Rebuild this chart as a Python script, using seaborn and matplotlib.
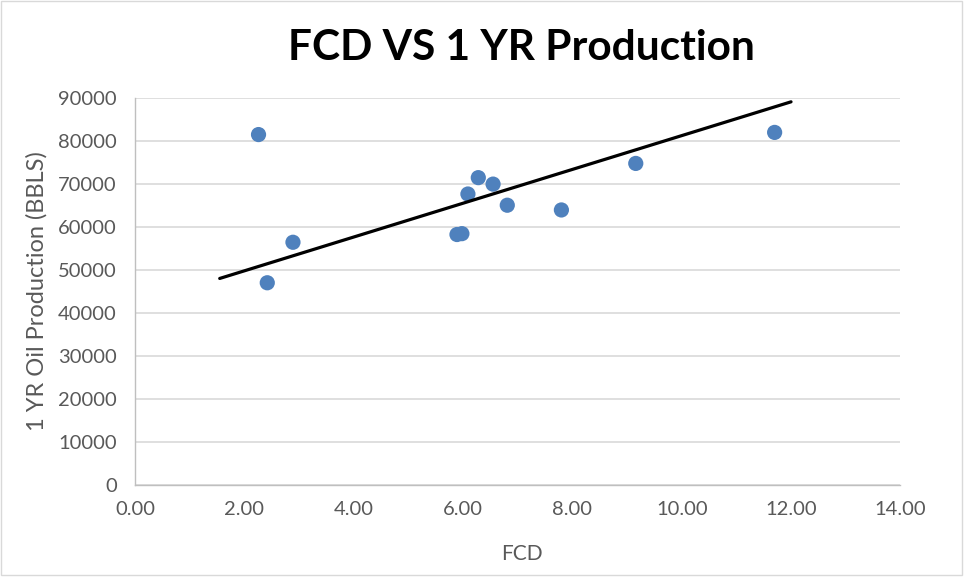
import matplotlib
matplotlib.use("Agg")
import matplotlib.pyplot as plt
import seaborn as sns
import pandas as pd
from matplotlib.patches import Rectangle

# Data
fcd = [2.26, 2.42, 2.89, 5.89, 5.98, 6.09, 6.28, 6.55, 6.81, 7.80, 9.16, 11.70]
production = [81400, 47000, 56400, 58200, 58400, 67600, 71400, 69900, 65000, 63900, 74700, 81900]
trend_x = [1.55, 12.0]
trend_y = [48000, 89000]
x_ticks = [0, 2, 4, 6, 8, 10, 12, 14]
y_ticks = [0, 10000, 20000, 30000, 40000, 50000, 60000, 70000, 80000, 90000]

sns.set_theme(style="white")
plt.rcParams['font.family'] = ['Lato', 'DejaVu Sans']

df = pd.DataFrame({"FCD": fcd, "Prod": production})
tdf = pd.DataFrame({"x": trend_x, "y": trend_y})

fig = plt.figure(figsize=(9.64, 5.77), dpi=100)
ax = fig.add_axes([0.140, 0.159, 0.794, 0.672])

ax.set_axisbelow(True)
ax.grid(axis="y", color="#d9d9d9", linewidth=1.2)
ax.grid(axis="x", visible=False)

sns.scatterplot(data=df, x="FCD", y="Prod", ax=ax, color="#4f81bd", s=120,
                edgecolor="none", zorder=3)
sns.lineplot(data=tdf, x="x", y="y", ax=ax, color="black", linewidth=2.3, zorder=4)

ax.set_xlim(0, 14)
ax.set_ylim(0, 90000)
ax.set_xticks(x_ticks)
ax.set_xticklabels([f"{v:.2f}" for v in x_ticks])
ax.set_yticks(y_ticks)
ax.set_yticklabels([str(v) for v in y_ticks])
ax.tick_params(axis="both", length=0, labelsize=14.5, colors="#595959")
ax.tick_params(axis="y", pad=13)
ax.tick_params(axis="x", pad=11)

for s in ["top", "right"]:
    ax.spines[s].set_visible(False)
for s in ["left", "bottom"]:
    ax.spines[s].set_color("#bfbfbf")
    ax.spines[s].set_linewidth(1.0)

ax.set_xlabel("FCD", fontsize=15, color="#595959")
ax.set_ylabel("1 YR Oil Production (BBLS)", fontsize=17, color="#595959")
ax.xaxis.set_label_coords(0.505, -0.152)
ax.yaxis.set_label_coords(-0.114, 0.5)

fig.text(0.541, 0.917, "FCD VS 1 YR Production", ha="center", va="center",
         fontsize=30.5, fontweight="bold", color="black")

fig.patches.append(Rectangle((0.001, 0.003), 0.997, 0.995, transform=fig.transFigure,
                             fill=False, edgecolor="#d9d9d9", linewidth=1.0))

fig.savefig("out.png", dpi=100)
